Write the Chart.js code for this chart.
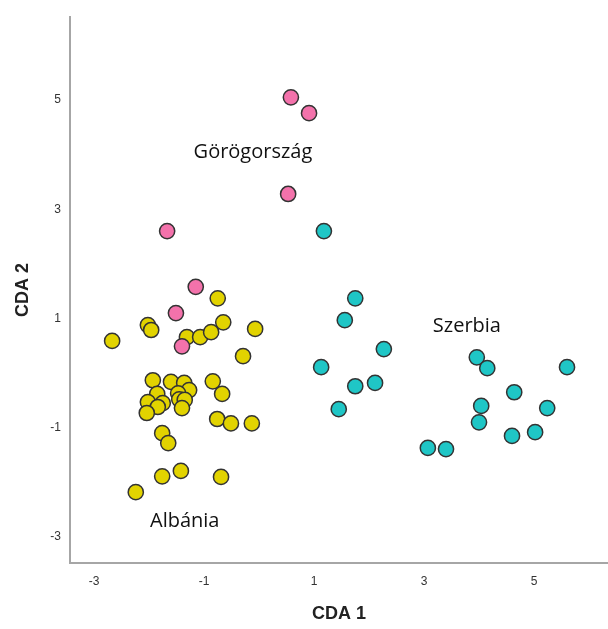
<!DOCTYPE html>
<html>
<head>
<meta charset="utf-8">
<script src="https://cdn.jsdelivr.net/npm/chart.js@4.4.1/dist/chart.umd.min.js"></script>
<style>
  html, body { margin: 0; padding: 0; background: #fff; }
  #wrap { width: 608px; height: 629px; }
</style>
</head>
<body>
<div id="wrap"><canvas id="myChart" width="608" height="629"></canvas></div>
<script>
// group names (shown as labels inside the plot)
const groups = ['Görögország', 'Szerbia', 'Albánia'];
const colors = ['#f372ab', '#1fc6c6', '#e2d300'];

// CDA scores
const greeceX = [0.58, 0.91, 0.53, -1.67, -1.15, -1.51, -1.40];
const greeceY = [5.05, 4.76, 3.28, 2.60, 1.58, 1.10, 0.49];

const serbiaX = [1.18, 1.75, 1.56, 2.27, 1.13, 1.75, 2.11, 1.45, 3.96, 4.15, 5.60, 4.64, 4.04, 5.24, 4.00, 4.60, 5.02, 3.07, 3.40];
const serbiaY = [2.60, 1.37, 0.97, 0.44, 0.11, -0.24, -0.18, -0.66, 0.29, 0.09, 0.11, -0.35, -0.60, -0.64, -0.90, -1.15, -1.08, -1.37, -1.39];

const albaniaX = [-0.75, -2.02, -1.96, -2.67, -1.31, -1.07, -0.87, -0.65, -0.07, -0.29,
    -1.93, -1.60, -1.36, -1.27, -0.84, -0.67, -1.85, -1.47, -2.02, -1.75, -1.84, -1.45, -1.35, -1.40, -2.04,
    -0.76, -0.51, -0.13, -1.76, -1.65, -1.76, -1.42, -0.69, -2.24];
const albaniaY = [1.37, 0.88, 0.79, 0.59, 0.66, 0.66, 0.75, 0.93, 0.81, 0.31,
    -0.13, -0.16, -0.18, -0.31, -0.15, -0.38, -0.38, -0.37, -0.53, -0.55, -0.62, -0.48, -0.49, -0.64, -0.73,
    -0.84, -0.92, -0.92, -1.10, -1.28, -1.89, -1.79, -1.90, -2.18];

// where the group names sit, in data units
const labelX = [-0.11, 3.78, -1.35];
const labelY = [4.05, 0.86, -2.71];

const tickValues = [-3, -1, 1, 3, 5];

function pts(xs, ys) {
    return xs.map((x, i) => ({ x: x, y: ys[i] }));
}

function dataset(i, xs, ys) {
    return {
        label: groups[i],
        data: pts(xs, ys),
        backgroundColor: colors[i],
        borderColor: '#333',
        borderWidth: 1.5,
        pointRadius: 7.6,
        pointHoverRadius: 7.6
    };
}

// writes the group names inside the plot area
const groupLabels = {
    id: 'groupLabels',
    afterDatasetsDraw(chart) {
        const ctx = chart.ctx;
        const xs = chart.scales.x, ys = chart.scales.y;
        ctx.save();
        ctx.font = '20px "Open Sans"';
        ctx.fillStyle = '#111';
        ctx.textAlign = 'center';
        ctx.textBaseline = 'middle';
        groups.forEach((g, i) => {
            ctx.fillText(g, xs.getPixelForValue(labelX[i]), ys.getPixelForValue(labelY[i]));
        });
        ctx.restore();
    }
};

Chart.defaults.font.family = '"Liberation Sans", Arial, sans-serif';

let myChart = document.getElementById('myChart').getContext('2d');

let scatter = new Chart(myChart, {
    type: 'scatter',
    data: {
        datasets: [
            dataset(0, greeceX, greeceY),
            dataset(1, serbiaX, serbiaY),
            dataset(2, albaniaX, albaniaY)
        ]
    },
    options: {
        responsive: false,
        animation: false,
        layout: { autoPadding: false, padding: { top: 17, right: 0, left: 0, bottom: 0 } },
        plugins: {
            legend: { display: false },
            tooltip: { enabled: false }
        },
        scales: {
            x: {
                min: -3.436,
                max: 6.345,
                afterBuildTicks: (s) => { s.ticks = tickValues.map(v => ({ value: v })); },
                afterFit: (s) => { s.height = 66; s.paddingLeft = 0; s.paddingRight = 0; },
                grid: { display: false, drawTicks: false },
                border: { display: true, color: '#a6a6a6', width: 2 },
                ticks: { color: '#333', font: { size: 12 }, padding: 11, maxRotation: 0 },
                title: {
                    display: true,
                    text: 'CDA 1',
                    color: '#222',
                    font: { size: 18, weight: 'bold' },
                    padding: { top: 12, bottom: 4 }
                }
            },
            y: {
                min: -3.476,
                max: 6.52,
                afterBuildTicks: (s) => { s.ticks = tickValues.map(v => ({ value: v })); },
                afterFit: (s) => { s.width = 70; s.paddingTop = 0; s.paddingBottom = 0; },
                grid: { display: false, drawTicks: false },
                border: { display: true, color: '#a6a6a6', width: 2 },
                ticks: { color: '#333', font: { size: 12 }, padding: 9 },
                title: {
                    display: true,
                    text: 'CDA 2',
                    color: '#222',
                    font: { size: 18, weight: 'bold' },
                    padding: { top: 12, bottom: 0 }
                }
            }
        }
    },
    plugins: [groupLabels]
});
</script>
</body>
</html>
